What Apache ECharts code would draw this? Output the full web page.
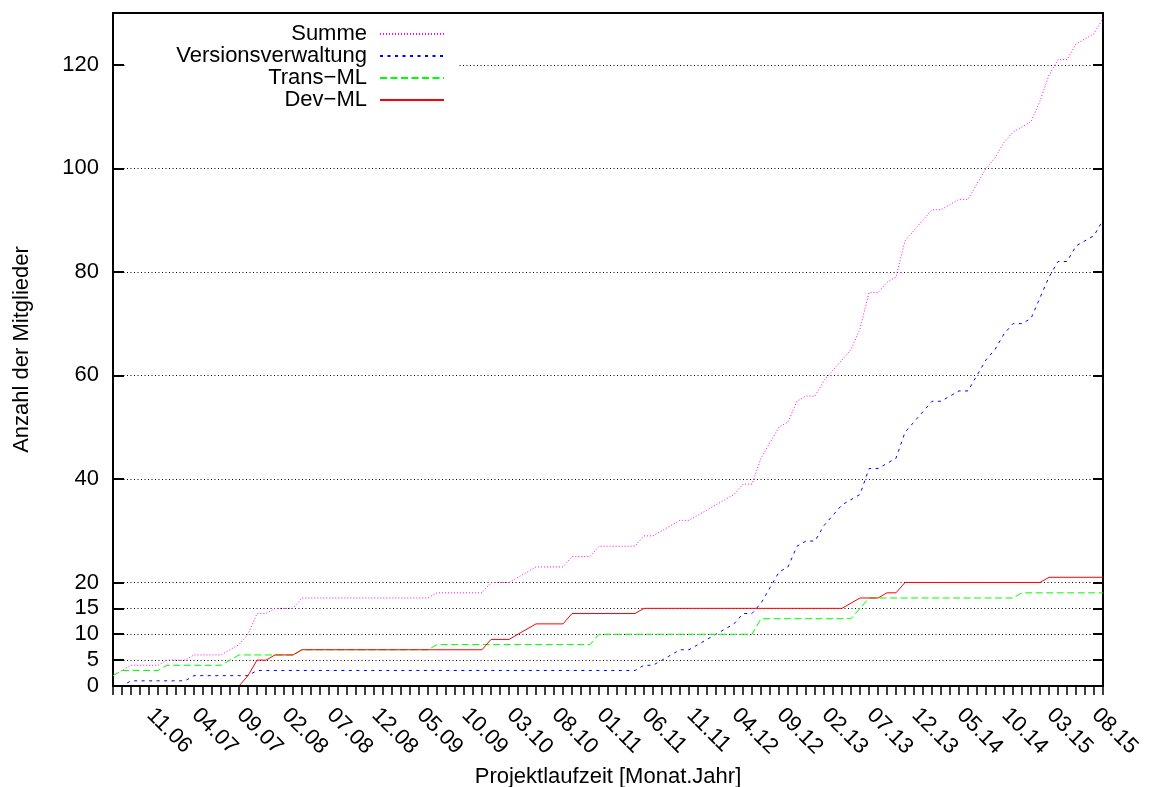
<!DOCTYPE html>
<html><head><meta charset="utf-8">
<script src="https://cdn.jsdelivr.net/npm/echarts@6/dist/echarts.min.js"></script>
<style>html,body{margin:0;padding:0;background:#fff}#c{width:1151px;height:787px}</style>
</head><body><div id="c"></div>
<script>
const months = [
  '06.06','07.06','08.06','09.06','10.06','11.06','12.06',
  '01.07','02.07','03.07','04.07','05.07','06.07','07.07','08.07','09.07','10.07','11.07','12.07',
  '01.08','02.08','03.08','04.08','05.08','06.08','07.08','08.08','09.08','10.08','11.08','12.08',
  '01.09','02.09','03.09','04.09','05.09','06.09','07.09','08.09','09.09','10.09','11.09','12.09',
  '01.10','02.10','03.10','04.10','05.10','06.10','07.10','08.10','09.10','10.10','11.10','12.10',
  '01.11','02.11','03.11','04.11','05.11','06.11','07.11','08.11','09.11','10.11','11.11','12.11',
  '01.12','02.12','03.12','04.12','05.12','06.12','07.12','08.12','09.12','10.12','11.12','12.12',
  '01.13','02.13','03.13','04.13','05.13','06.13','07.13','08.13','09.13','10.13','11.13','12.13',
  '01.14','02.14','03.14','04.14','05.14','06.14','07.14','08.14','09.14','10.14','11.14','12.14',
  '01.15','02.15','03.15','04.15','05.15','06.15','07.15','08.15'
];
const yTicks = [0, 5, 10, 15, 20, 40, 60, 80, 100, 120];
const seriesNames = ['Summe', 'Versionsverwaltung', 'Trans\u2212ML', 'Dev\u2212ML'];

const summe = [
  2,3,4,4,4,4,5,5,5,6,6,6,6,7,8,10,14,14,15,15,15,
  17,17,17,17,17,17,17,17,17,17,17,17,17,17,17,
  18,18,18,18,18,18,20,20,20,21,22,23,23,23,23,25,25,25,27,27,27,27,27,29,29,
  30,31,32,32,33,34,35,36,37,39,39,44,47,50,51,55,56,56,59,61,63,65,69,76,76,78,79,
  86,88,90,92,92,93,94,94,97,100,102,105,107,108,109,113,118,121,121,124,125,126,129
];
const versionsverwaltung = [
  0,0,1,1,1,1,1,1,1,2,2,2,2,2,2,2,
  3,3,3,3,3,3,3,3,3,3,3,3,3,3,3,3,3,3,3,3,3,3,3,3,3,3,3,3,3,3,3,3,3,3,3,3,3,3,3,3,3,3,3,
  4,4,5,6,7,7,8,9,10,11,12,14,14,16,19,22,23,27,28,28,31,33,35,36,37,42,42,43,44,
  49,51,53,55,55,56,57,57,60,63,65,68,70,70,71,75,79,82,82,85,86,87,90
];
const transML = [
  2,3,3,3,3,3,4,4,4,4,4,4,4,5,6,6,6,6,6,6,6,
  7,7,7,7,7,7,7,7,7,7,7,7,7,7,7,
  8,8,8,8,8,8,8,8,8,8,8,8,8,8,8,8,8,8,
  10,10,10,10,10,10,10,10,10,10,10,10,10,10,10,10,10,10,
  13,13,13,13,13,13,13,13,13,13,13,15,
  17,17,17,17,17,17,17,17,17,17,17,17,17,17,17,17,17,
  18,18,18,18,18,18,18,18,18,18
];
const devML = [
  0,0,0,0,0,0,0,0,0,0,0,0,0,0,0,2,5,5,6,6,6,
  7,7,7,7,7,7,7,7,7,7,7,7,7,7,7,7,7,7,7,7,7,
  9,9,9,10,11,12,12,12,12,14,14,14,14,14,14,14,14,
  15,15,15,15,15,15,15,15,15,15,15,15,15,15,15,15,15,15,15,15,15,15,15,
  16,17,17,17,18,18,
  20,20,20,20,20,20,20,20,20,20,20,20,20,20,20,20,
  21,21,21,21,21,21,21
];

const FONT = '"Liberation Sans", Arial, Helvetica, sans-serif';
const chart = echarts.init(document.getElementById('c'), null, {renderer: 'canvas'});

function lineSeries(name, data, color, type, z) {
  return {
    name: name, type: 'line', data: data, symbol: 'none', showSymbol: false,
    color: color, z: z, silent: true,
    lineStyle: {color: color, width: 1, type: type}
  };
}

chart.setOption({
  animation: false,
  backgroundColor: '#fff',
  textStyle: {fontFamily: FONT},
  grid: {left: 113, right: 48, top: 13, bottom: 101, show: true,
         outerBoundsMode: 'none', containLabel: false,
         borderColor: '#000', borderWidth: 2, backgroundColor: 'transparent'},
  legend: {
    orient: 'vertical', align: 'right', right: 693, top: 18,
    padding: [5, 13, 5, 50], itemGap: 0, itemWidth: 64, itemHeight: 22,
    backgroundColor: '#fff', z: 4,
    itemStyle: {opacity: 0, borderWidth: 0},
    textStyle: {fontSize: 22, color: '#000', lineHeight: 22, fontFamily: FONT, padding: [0, 8, 0, 0]},
    data: seriesNames
  },
  xAxis: {
    type: 'category', data: months, boundaryGap: false, z: 10,
    axisLine: {show: true, lineStyle: {color: '#000', width: 2}},
    axisTick: {show: true, interval: 0, inside: false, length: 9, lineStyle: {color: '#000', width: 1.5}},
    axisLabel: {
      interval: function (i) { return i % 5 === 0 && i > 0; },
      rotate: -45, verticalAlign: 'top', margin: 18,
      fontSize: 22, color: '#000', fontFamily: FONT
    },
    splitLine: {show: false},
    name: 'Projektlaufzeit [Monat.Jahr]', nameLocation: 'middle', nameGap: 80,
    nameTextStyle: {fontSize: 22, color: '#000', fontFamily: FONT}
  },
  yAxis: [{
    type: 'value', min: 0, max: 130,
    axisLine: {show: true, lineStyle: {color: '#000', width: 2}},
    axisTick: {show: true, inside: true, length: 11, customValues: yTicks, lineStyle: {color: '#000', width: 2}},
    axisLabel: {customValues: yTicks, margin: 14, fontSize: 22, color: '#000', fontFamily: FONT},
    splitLine: {show: true, lineStyle: {color: '#000', width: 1, type: [1, 2.5]}},
    name: 'Anzahl der Mitglieder', nameLocation: 'middle', nameRotate: 90, nameGap: 80,
    nameTextStyle: {fontSize: 22, color: '#000', fontFamily: FONT}
  }, {
    type: 'value', min: 0, max: 130, position: 'right',
    axisLine: {show: false},
    axisTick: {show: true, inside: true, length: 10, customValues: yTicks, lineStyle: {color: '#000', width: 2}},
    axisLabel: {show: false},
    splitLine: {show: false}
  }],
  series: [
    lineSeries(seriesNames[0], summe, '#ff00ff', [1, 2], 2),
    lineSeries(seriesNames[1], versionsverwaltung, '#0000ff', [3, 4.5], 3),
    lineSeries(seriesNames[2], transML, '#00ff00', [7, 3.5], 4),
    lineSeries(seriesNames[3], devML, '#ff0000', 'solid', 5)
  ]
});
</script>
</body></html>
